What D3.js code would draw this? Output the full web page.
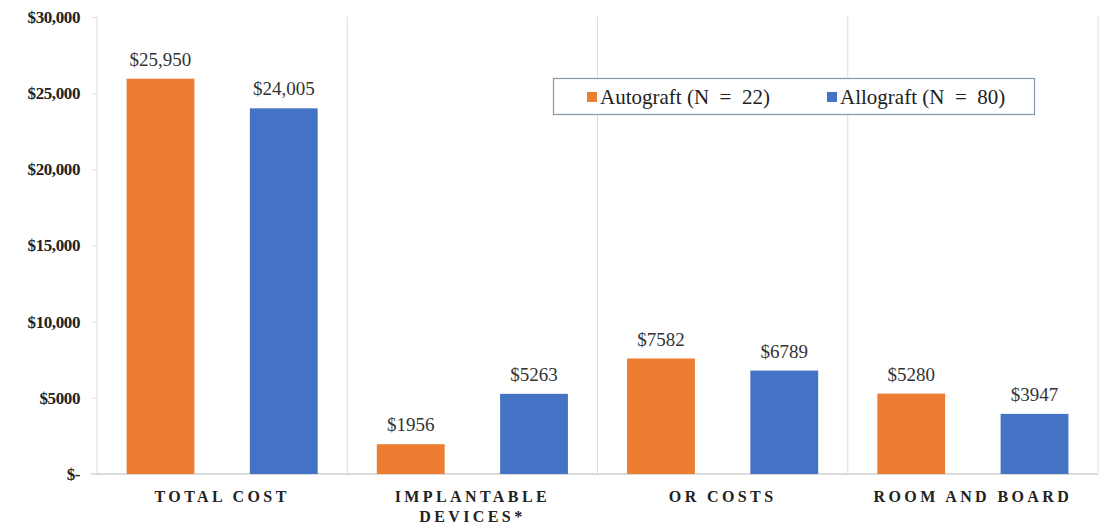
<!DOCTYPE html>
<html lang="en">
<head>
  <meta charset="utf-8" />
  <title>Cost comparison</title>
  <script src="https://cdn.jsdelivr.net/npm/d3@7"></script>
  <style>
    body { margin: 0; background: #fff; }
  </style>
</head>
<body>
  <div id="chart"></div>
  <script>
    const categories = ["TOTAL COST", "IMPLANTABLE|DEVICES*", "OR COSTS", "ROOM AND BOARD"];
    const seriesNames = ["Autograft (N  =  22)", "Allograft (N  =  80)"];
    const autograft = [25950, 1956, 7582, 5280];
    const allograft = [24005, 5263, 6789, 3947];
    const valueLabels = [["$25,950", "$1956", "$7582", "$5280"], ["$24,005", "$5263", "$6789", "$3947"]];
    const yTicks = [0, 5000, 10000, 15000, 20000, 25000, 30000];
    const yTickLabels = ["$-", "$5000", "$10,000", "$15,000", "$20,000", "$25,000", "$30,000"];
    const colors = ["#ED7D31", "#4472C4"];

    const serif = "'Liberation Serif', 'Times New Roman', serif";
    const w = 1101, h = 525;
    const mLeft = 97, mRight = 1098, mTop = 17, mBottom = 474;

    const svg = d3.select("#chart").append("svg")
      .attr("width", w).attr("height", h)
      .attr("font-family", serif);

    const x = d3.scaleBand().domain(categories).range([mLeft, mRight]).padding(0);
    const xs = d3.scaleBand().domain([0, 1]).range([0, x.bandwidth()]).paddingInner(0.45).paddingOuter(0.24);
    const y = d3.scaleLinear().domain([0, 30000]).range([mBottom, mTop]);

    // category separators
    svg.selectAll("line.sep")
      .data(d3.range(categories.length + 1))
      .enter().append("line")
      .attr("x1", i => mLeft + i * x.bandwidth())
      .attr("x2", i => mLeft + i * x.bandwidth())
      .attr("y1", mTop).attr("y2", mBottom)
      .attr("stroke", "#dcdcdc").attr("stroke-width", 1);

    // baseline
    svg.append("line")
      .attr("x1", mLeft - 6).attr("x2", mRight)
      .attr("y1", mBottom).attr("y2", mBottom)
      .attr("stroke", "#d0d0d0").attr("stroke-width", 1.5);

    // y axis
    const yAxis = d3.axisLeft(y).tickValues(yTicks).tickSize(5).tickPadding(12)
      .tickFormat((d, i) => yTickLabels[i]);
    const gy = svg.append("g").attr("transform", `translate(${mLeft},0)`).call(yAxis);
    gy.attr("font-family", serif);
    gy.select(".domain").remove();
    gy.selectAll(".tick line").attr("stroke", "#dcdcdc");
    gy.selectAll(".tick text")
      .style("font-family", serif)
      .attr("font-size", 17).attr("font-weight", "bold").attr("fill", "#222")
      .attr("letter-spacing", "-0.4px");

    // bars
    const series = [autograft, allograft];
    series.forEach((vals, s) => {
      const g = svg.append("g");
      g.selectAll("rect").data(vals).enter().append("rect")
        .attr("x", (d, i) => x(categories[i]) + xs(s))
        .attr("y", d => y(d))
        .attr("width", xs.bandwidth())
        .attr("height", d => mBottom - y(d))
        .attr("fill", colors[s]);
      g.selectAll("text").data(vals).enter().append("text")
        .attr("x", (d, i) => x(categories[i]) + xs(s) + xs.bandwidth() / 2)
        .attr("y", d => y(d) - 13)
        .attr("text-anchor", "middle")
        .style("font-family", serif)
        .attr("font-size", 19).attr("fill", "#333")
        .text((d, i) => valueLabels[s][i]);
    });

    // category labels
    categories.forEach(c => {
      const t = svg.append("text")
        .attr("x", x(c) + x.bandwidth() / 2)
        .attr("y", 502)
        .attr("text-anchor", "middle")
        .style("font-family", serif)
        .attr("font-size", 16).attr("font-weight", "bold")
        .attr("letter-spacing", "3.4px").attr("fill", "#222");
      c.split("|").forEach((line, k) => {
        t.append("tspan")
          .attr("x", x(c) + x.bandwidth() / 2)
          .attr("dy", k === 0 ? 0 : 20)
          .text(line);
      });
    });

    // legend
    const legend = svg.append("g");
    legend.append("rect")
      .attr("x", 553.5).attr("y", 78.5).attr("width", 481).attr("height", 36)
      .attr("fill", "#fff").attr("stroke", "#8496b0").attr("stroke-width", 1.2);
    const legX = [587, 827];
    seriesNames.forEach((n, s) => {
      legend.append("rect")
        .attr("x", legX[s]).attr("y", 92).attr("width", 10).attr("height", 10)
        .attr("fill", colors[s]);
      legend.append("text")
        .attr("x", legX[s] + 13).attr("y", 104)
        .style("font-family", serif)
        .attr("font-size", 21).attr("fill", "#222")
        .style("white-space", "pre")
        .text(n);
    });
  </script>
</body>
</html>
